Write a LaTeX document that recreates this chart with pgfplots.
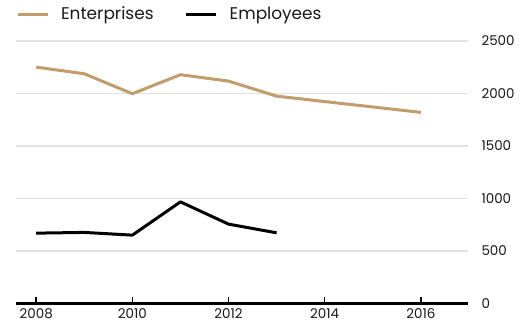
\documentclass[border=0pt]{standalone}
\usepackage{pgfplots}
\pgfplotsset{compat=1.18}
\usepackage{fontspec}
\setmainfont{Poppins}
\definecolor{tan}{HTML}{C29D6B}
\definecolor{gridgray}{HTML}{E2E2E2}
\begin{document}
\begin{tikzpicture}
\useasboundingbox (-16bp,-28.5bp) rectangle (507bp,303.5bp);
\begin{axis}[
  at={(0,0)}, anchor=south west,
  scale only axis, width=452bp, height=262.5bp,
  xmin=2007.58, xmax=2016.98, ymin=0, ymax=2500,
  axis x line*=bottom, axis y line*=right,
  y axis line style={draw=none},
  x axis line style={black, line width=2.2bp},
  xtick={2008,2010,...,2016},
  ytick={0,500,...,2500},
  xticklabels={2008,2010,2012,2014,2016},
  yticklabels={0,500,1000,1500,2000,2500},
  tick align=inside, major tick length=6bp,
  xtick style={black, line width=1.4bp},
  ytick style={draw=none},
  ymajorgrids, grid style={gridgray, line width=1.5bp},
  /pgf/number format/assume math mode=true,
  tick label style={font=\fontsize{13.5}{15}\selectfont, text=black!90},
  yticklabel style={anchor=west, xshift=10bp},
  xticklabel style={anchor=north, yshift=-1.5bp},
  legend columns=2,
  legend style={at={(axis description cs:0,1)}, anchor=west, yshift=26.7bp,
    draw=none, fill=none, inner sep=0pt, outer sep=0pt,
    font=\fontsize{17}{19}\selectfont,
    nodes={inner sep=0pt, text=black!90},
    /tikz/every odd column/.append style={column sep=12bp},
    /tikz/every even column/.append style={column sep=31bp}},
  legend image code/.code={\draw[#1] (0bp,0bp) -- (30bp,0bp);},
]
\addplot[tan, line width=3bp, line join=round] coordinates {
(2008,2251) (2009,2188) (2010,1998) (2011,2179) (2012,2118) (2013,1975) (2014,1923) (2015,1872) (2016,1820)};
\addlegendentry{Enterprises}
\addplot[black, line width=3bp, line join=round] coordinates {
(2008,670) (2009,677) (2010,651) (2011,968) (2012,756) (2013,673)};
\addlegendentry{Employees}
\end{axis}
\end{tikzpicture}
\end{document}
